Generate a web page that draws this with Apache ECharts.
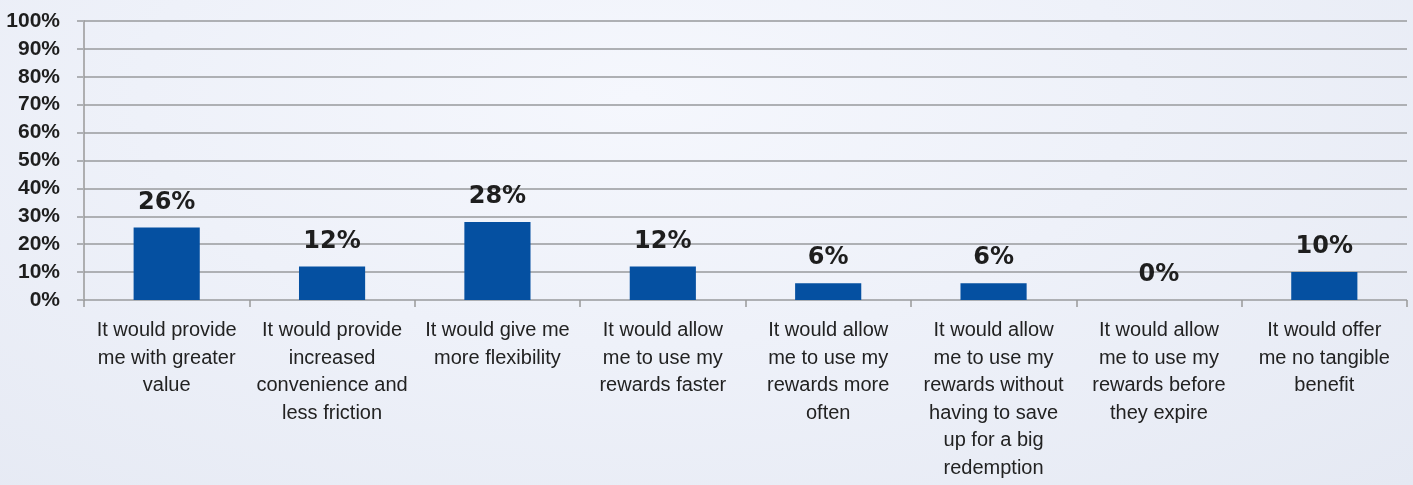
<!DOCTYPE html>
<html>
<head>
<meta charset="utf-8">
<script src="https://cdn.jsdelivr.net/npm/echarts@6/dist/echarts.min.js"></script>
<style>
  html, body { margin: 0; padding: 0; }
  #chart {
    width: 1413px;
    height: 485px;
    background: radial-gradient(ellipse at 45% 20%, #f5f7fd 0%, #eef1f9 45%, #e5e9f3 100%);
  }
</style>
</head>
<body>
<div id="chart"></div>
<script>
var categories = [
  'It would provide\nme with greater\nvalue',
  'It would provide\nincreased\nconvenience and\nless friction',
  'It would give me\nmore flexibility',
  'It would allow\nme to use my\nrewards faster',
  'It would allow\nme to use my\nrewards more\noften',
  'It would allow\nme to use my\nrewards without\nhaving to save\nup for a big\nredemption',
  'It would allow\nme to use my\nrewards before\nthey expire',
  'It would offer\nme no tangible\nbenefit'
]
var values = [26, 12, 28, 12, 6, 6, 0, 10]

var barColor = '#0550a1'
var lineGray = '#aeb0b4'

var chart = echarts.init(document.getElementById('chart'))
chart.setOption({
  animation: false,
  grid: {
    left: 84,
    right: 6,
    top: 21,
    bottom: 185,
    containLabel: false
  },
  xAxis: {
    type: 'category',
    data: categories,
    axisLine: { show: false },
    axisTick: {
      show: true,
      length: 7,
      lineStyle: { color: '#999', width: 1.5 }
    },
    axisLabel: {
      interval: 0,
      margin: 17,
      color: '#222',
      fontFamily: '"Liberation Sans", Arial, sans-serif',
      fontSize: 20,
      lineHeight: 27.5
    }
  },
  yAxis: {
    type: 'value',
    min: 0,
    max: 100,
    interval: 10,
    axisLine: { show: true, lineStyle: { color: '#999', width: 1.5 } },
    axisTick: { show: true, length: 7, lineStyle: { color: lineGray, width: 2 } },
    splitLine: { show: true, lineStyle: { color: lineGray, width: 2 } },
    axisLabel: {
      margin: 24,
      color: '#1e1e1e',
      fontFamily: '"Liberation Sans", Arial, sans-serif',
      fontWeight: 'bold',
      fontSize: 21,
      formatter: '{value}%'
    }
  },
  series: [
    {
      type: 'bar',
      data: values,
      barWidth: '40%',
      itemStyle: { color: barColor },
      label: {
        show: true,
        position: 'top',
        distance: 13,
        color: '#1e1e1e',
        fontFamily: '"DejaVu Sans", sans-serif',
        fontWeight: 'bold',
        fontSize: 24,
        formatter: '{c}%'
      }
    }
  ]
})
</script>
</body>
</html>
